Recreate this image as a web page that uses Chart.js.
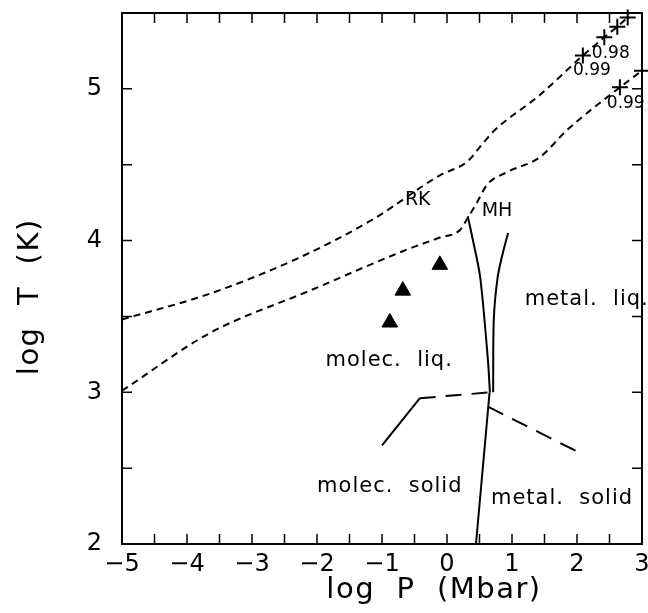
<!DOCTYPE html>
<html>
<head>
<meta charset="utf-8">
<script src="https://cdn.jsdelivr.net/npm/chart.js@4.4.1/dist/chart.umd.min.js"></script>
<style>
  html, body { margin: 0; padding: 0; background: #fff; }
  #wrap { width: 648px; height: 613px; }
</style>
</head>
<body>
<div id="wrap"><canvas id="phase" width="648" height="613"></canvas></div>
<script>
// dashed boundaries (log P, log T)
const upperX = [-5, -3.65, -2.26, -1.14, -0.11, 0.31, 0.55, 0.74, 1.43, 2.09, 2.42, 2.62, 2.78];
const upperY = [3.48, 3.65, 3.89, 4.14, 4.43, 4.52, 4.64, 4.73, 4.96, 5.22, 5.34, 5.41, 5.47];
const lowerX = [-5, -3.65, -2.11, -0.62, -0.11, 0.2, 0.32, 0.46, 0.62, 0.92, 1.43, 1.85, 2.66, 3.0];
const lowerY = [3.01, 3.39, 3.67, 3.94, 4.02, 4.07, 4.15, 4.25, 4.37, 4.45, 4.55, 4.73, 5.01, 5.12];

// crosses on the curves
const upperCrossX = [2.09, 2.42, 2.62, 2.78];
const upperCrossY = [5.22, 5.34, 5.41, 5.47];
const lowerCrossX = [2.66, 3.0];
const lowerCrossY = [5.01, 5.12];

// melting lines
const meltLeftX = [0.32, 0.40, 0.51, 0.63, 0.66];
const meltLeftY = [4.16, 4.0, 3.76, 3.21, 3.0];
const meltRightX = [0.94, 0.86, 0.78, 0.72, 0.71];
const meltRightY = [4.05, 3.92, 3.76, 3.48, 3.0];

// solid phase lines
const molecSolidX = [-1.0, -0.42];
const molecSolidY = [2.65, 2.96];
const molecDashX = [-0.42, 0.66];
const molecDashY = [2.96, 3.0];
const metalDashX = [0.63, 2.0];
const metalDashY = [2.905, 2.61];
const solidBoundX = [0.655, 0.446];
const solidBoundY = [3.0, 2.0];

// triangles
const triX = [-0.11, -0.68, -0.88];
const triY = [3.84, 3.67, 3.46];

// text labels
const noteText = ['RK', 'MH', 'metal.  liq.', 'molec.  liq.', 'molec.  solid', 'metal.  solid', '0.98', '0.99', '0.99'];
const noteX = [-0.45, 0.77, 2.15, -0.89, -0.88, 1.77, 2.52, 2.23, 2.75];
const noteY = [4.27, 4.195, 3.61, 3.21, 2.38, 2.30, 5.23, 5.12, 4.90];
const noteSize = [19, 19, 21, 21, 21, 21, 17, 17, 17];

const xTicks = [-5, -4, -3, -2, -1, 0, 1, 2, 3];
const yTicks = [2, 3, 4, 5];
const xTitle = 'log  P  (Mbar)';
const yTitle = 'log  T  (K)';

const pts = (xs, ys) => xs.map((x, i) => ({ x: x, y: ys[i] }));

function line(xs, ys, dash, smooth) {
  const ds = {
    data: pts(xs, ys), showLine: true, borderColor: '#000', borderWidth: 2,
    borderDash: dash || [], pointRadius: 0, clip: false, tension: 0
  };
  if (smooth === 'mono') ds.cubicInterpolationMode = 'monotone';
  else if (smooth) ds.tension = smooth;
  return ds;
}

const framePlugin = {
  id: 'frame',
  afterDatasetsDraw(chart) {
    const ctx = chart.ctx, a = chart.chartArea;
    const xs = chart.scales.x, ys = chart.scales.y;
    ctx.save();
    ctx.strokeStyle = '#000';
    ctx.lineWidth = 2;
    ctx.strokeRect(a.left, a.top, a.right - a.left, a.bottom - a.top);
    ctx.lineWidth = 1.5;
    ctx.beginPath();
    for (let v = -4.5; v < 3; v += 0.5) {
      const p = xs.getPixelForValue(v);
      ctx.moveTo(p, a.bottom); ctx.lineTo(p, a.bottom - 10);
      ctx.moveTo(p, a.top); ctx.lineTo(p, a.top + 10);
    }
    for (let v = 2.5; v < 5.5; v += 0.5) {
      const p = ys.getPixelForValue(v);
      ctx.moveTo(a.left, p); ctx.lineTo(a.left + 10, p);
      ctx.moveTo(a.right, p); ctx.lineTo(a.right - 10, p);
    }
    ctx.stroke();

    ctx.fillStyle = '#000';
    ctx.textAlign = 'center';
    ctx.textBaseline = 'middle';
    noteText.forEach((t, i) => {
      ctx.font = noteSize[i] + 'px "DejaVu Sans"';
      ctx.letterSpacing = noteSize[i] > 20 ? '1px' : '0px';
      ctx.fillText(t, xs.getPixelForValue(noteX[i]), ys.getPixelForValue(noteY[i]));
    });

    // axis titles
    ctx.font = '29px "DejaVu Sans"';
    ctx.letterSpacing = '1.5px';
    ctx.fillText(xTitle, xs.getPixelForValue(-0.2), a.bottom + 46);
    ctx.translate(a.left - 92, ys.getPixelForValue(3.63));
    ctx.rotate(-Math.PI / 2);
    ctx.fillText(yTitle, 0, 0);
    ctx.restore();
  }
};

new Chart(document.getElementById('phase'), {
  type: 'scatter',
  data: {
    datasets: [
      line(upperX, upperY, [7, 5], 'mono'),
      line(lowerX, lowerY, [7, 5], 'mono'),
      line(meltLeftX, meltLeftY, null, 0.3),
      line(meltRightX, meltRightY, null, 0.3),
      line(molecSolidX, molecSolidY),
      line(molecDashX, molecDashY, [16, 10]),
      line(metalDashX, metalDashY, [17, 10]),
      line(solidBoundX, solidBoundY),
      {
        data: pts(upperCrossX, upperCrossY).concat(pts(lowerCrossX, lowerCrossY)),
        pointStyle: 'cross', pointRadius: 8, borderColor: '#000', borderWidth: 2,
        showLine: false, clip: false
      },
      {
        data: pts(triX, triY),
        pointStyle: 'triangle', pointRadius: 9, backgroundColor: '#000',
        borderColor: '#000', borderWidth: 1, showLine: false
      }
    ]
  },
  options: {
    responsive: false,
    animation: false,
    layout: { autoPadding: false, padding: { top: 13, right: 6, left: 0, bottom: 0 } },
    plugins: { legend: { display: false }, tooltip: { enabled: false } },
    scales: {
      x: {
        min: -5, max: 3,
        afterFit(s) { s.height = 69; s.paddingLeft = 0; s.paddingRight = 0; },
        grid: { display: false, drawTicks: false },
        border: { display: false },
        ticks: {
          stepSize: 0.5, padding: 6, autoSkip: false, maxRotation: 0, color: '#000',
          font: { family: '"DejaVu Sans"', size: 24 },
          callback: v => xTicks.includes(v) ? String(v).replace('-', '\u2212') : ''
        }
      },
      y: {
        min: 2, max: 5.5,
        afterFit(s) { s.width = 122; s.paddingTop = 0; s.paddingBottom = 0; },
        grid: { display: false, drawTicks: false },
        border: { display: false },
        ticks: {
          stepSize: 0.5, padding: 20, autoSkip: false, color: '#000',
          font: { family: '"DejaVu Sans"', size: 24 },
          callback: v => yTicks.includes(v) ? String(v) : ''
        }
      }
    }
  },
  plugins: [framePlugin]
});
</script>
</body>
</html>
